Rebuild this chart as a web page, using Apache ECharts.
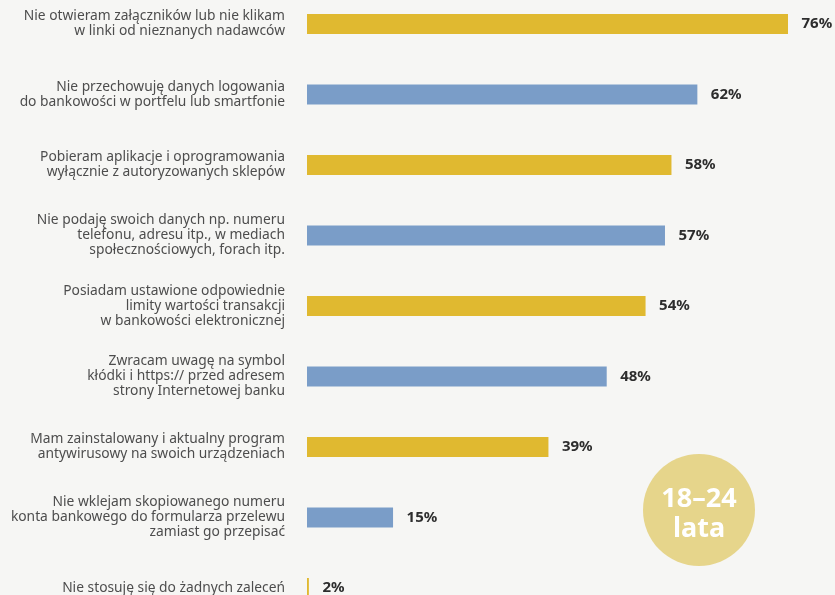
<!DOCTYPE html>
<html>
<head>
<meta charset="utf-8">
<script src="https://cdn.jsdelivr.net/npm/echarts@6/dist/echarts.min.js"></script>
<style>
html,body{margin:0;padding:0;background:#f6f6f4;}
#chart{width:835px;height:595px;}
</style>
</head>
<body>
<div id="chart"></div>
<script>
var categories = [
  "Nie otwieram załączników lub nie klikam\nw linki od nieznanych nadawców",
  "Nie przechowuję danych logowania\ndo bankowości w portfelu lub smartfonie",
  "Pobieram aplikacje i oprogramowania\nwyłącznie z autoryzowanych sklepów",
  "Nie podaję swoich danych np. numeru\ntelefonu, adresu itp., w mediach\nspołecznościowych, forach itp.",
  "Posiadam ustawione odpowiednie\nlimity wartości transakcji\nw bankowości elektronicznej",
  "Zwracam uwagę na symbol\nkłódki i https:// przed adresem\nstrony Internetowej banku",
  "Mam zainstalowany i aktualny program\nantywirusowy na swoich urządzeniach",
  "Nie wklejam skopiowanego numeru\nkonta bankowego do formularza przelewu\nzamiast go przepisać",
  "Nie stosuję się do żadnych zaleceń"
];
var values = [76, 62, 58, 57, 54, 48, 39, 15, 2];
var barColors = ["#e0b930", "#7a9dc8"];
var badgeText = "18–24\nlata";

var chart = echarts.init(document.getElementById('chart'));
chart.setOption({
  backgroundColor: '#f6f6f4',
  animation: false,
  grid: { left: 307, top: -11.25, width: 636.4, height: 634.5, containLabel: false, outerBoundsMode: 'none' },
  xAxis: { type: 'value', min: 1.71, max: 100, show: false },
  yAxis: {
    type: 'category',
    data: categories,
    inverse: true,
    axisLine: { show: false },
    axisTick: { show: false },
    axisLabel: {
      margin: 22,
      align: 'right',
      fontFamily: 'Noto Sans',
      fontSize: 13.8,
      lineHeight: 15,
      color: '#4d4d4d'
    }
  },
  series: [{
    type: 'bar',
    data: values,
    barWidth: 20,
    itemStyle: {
      color: function (p) { return barColors[p.dataIndex % 2]; }
    },
    label: {
      show: true,
      position: 'right',
      distance: 13.5,
      formatter: '{c}%',
      fontFamily: 'Noto Sans',
      fontWeight: 'bold',
      fontSize: 15,
      color: '#2d2d2d'
    }
  }],
  graphic: [{
    type: 'group',
    left: 643,
    top: 454,
    children: [{
      type: 'circle',
      shape: { cx: 56, cy: 56, r: 56 },
      style: { fill: '#e6d58b' }
    }, {
      type: 'text',
      x: 56,
      y: 60,
      style: {
        text: badgeText,
        fill: '#ffffff',
        font: 'bold 27px "Noto Sans"',
        lineHeight: 30,
        align: 'center',
        verticalAlign: 'middle'
      }
    }]
  }]
});
</script>
</body>
</html>
